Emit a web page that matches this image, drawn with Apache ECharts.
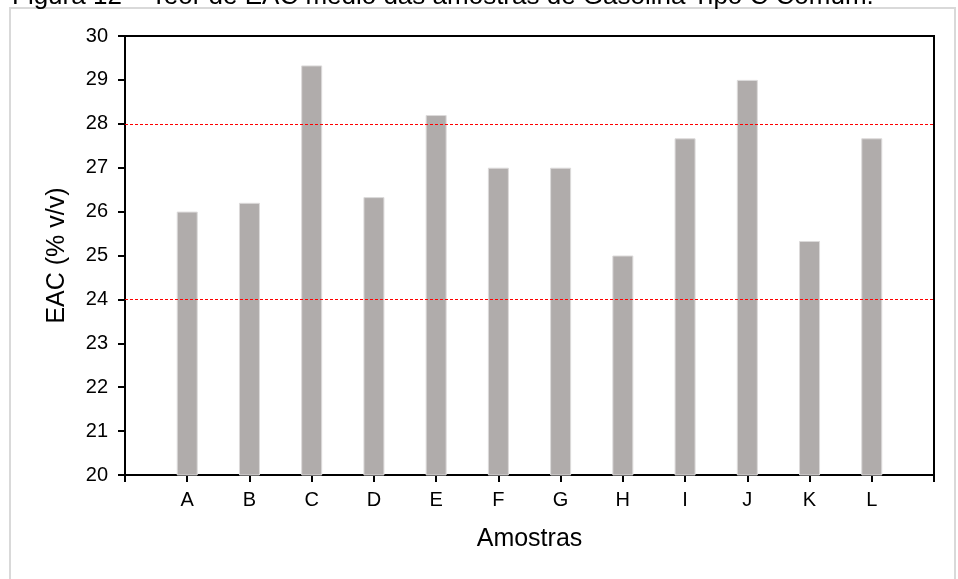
<!DOCTYPE html>
<html>
<head>
<meta charset="utf-8">
<script src="https://cdn.jsdelivr.net/npm/echarts@6/dist/echarts.min.js"></script>
<style>
  html, body { margin: 0; padding: 0; background: #fff; }
  #chart { width: 958px; height: 579px; }
</style>
</head>
<body>
<div id="chart"></div>
<script>
// Sample labels and mean EAC content (% v/v) of each sample
const samples = ['A', 'B', 'C', 'D', 'E', 'F', 'G', 'H', 'I', 'J', 'K', 'L'];
const eacValues = [26.0, 26.2, 29.33, 26.33, 28.2, 27.0, 27.0, 25.0, 27.67, 29.0, 25.33, 27.67];
// Specification limits drawn as red dotted lines
const limits = [24, 28];
// Value axis ticks
const yMin = 20, yMax = 30, yStep = 1;

const titleText = 'Figura 12 – Teor de EAC médio das amostras de Gasolina Tipo C Comum.';
const font = 'Liberation Sans, Arial, sans-serif';

// An empty slot at each end keeps the outer ticks on the frame edges
const axisCats = [''].concat(samples, ['']);
const barData = [null].concat(eacValues, [null]);

const limitStyle = { color: '#ff0000', width: 1, type: [3, 2], opacity: 1 };

const chart = echarts.init(document.getElementById('chart'), null, { renderer: 'canvas' });
chart.setOption({
  backgroundColor: '#ffffff',
  animation: false,
  graphic: [
    {
      type: 'rect',
      shape: { x: 10, y: 8, width: 945, height: 620 },
      style: { fill: 'none', stroke: '#d9d9d9', lineWidth: 2 },
      silent: true
    },
    {
      type: 'text',
      x: 12,
      y: 10,
      style: {
        text: titleText,
        font: '26px ' + font,
        fill: '#000',
        verticalAlign: 'bottom'
      },
      silent: true
    }
  ],
  grid: {
    left: 125, right: 24, top: 36, bottom: 104,
    show: true, borderColor: '#000', borderWidth: 2,
    containLabel: false
  },
  xAxis: {
    type: 'category',
    data: axisCats,
    boundaryGap: false,
    name: 'Amostras',
    nameLocation: 'middle',
    nameGap: 52,
    nameTextStyle: { fontFamily: font, fontSize: 25, color: '#000' },
    axisLine: { lineStyle: { color: '#000', width: 2 } },
    axisTick: { show: true, length: 7, inside: false, alignWithLabel: true, interval: 0, lineStyle: { color: '#000', width: 2 } },
    axisLabel: { interval: 0, margin: 15, fontFamily: font, fontSize: 20, color: '#000' },
    splitLine: { show: false }
  },
  yAxis: {
    type: 'value',
    min: yMin, max: yMax, interval: yStep,
    name: 'EAC (% v/v)',
    nameLocation: 'middle',
    nameRotate: 90,
    nameGap: 55,
    nameTextStyle: { fontFamily: font, fontSize: 25, color: '#000' },
    axisLine: { show: true, lineStyle: { color: '#000', width: 2 } },
    axisTick: { show: true, length: 7, inside: false, lineStyle: { color: '#000', width: 2 } },
    axisLabel: { margin: 17, fontFamily: font, fontSize: 20, color: '#000' },
    splitLine: { show: false }
  },
  series: [
    {
      type: 'bar',
      data: barData,
      barWidth: 21,
      clip: true,
      itemStyle: { color: '#b0acab', borderColor: '#dcdada', borderWidth: 1 },
      markLine: {
        silent: true,
        symbol: 'none',
        label: { show: false },
        emphasis: { disabled: true },
        lineStyle: limitStyle,
        data: limits.map(v => ({ yAxis: v, lineStyle: limitStyle }))
      }
    }
  ]
});
</script>
</body>
</html>
